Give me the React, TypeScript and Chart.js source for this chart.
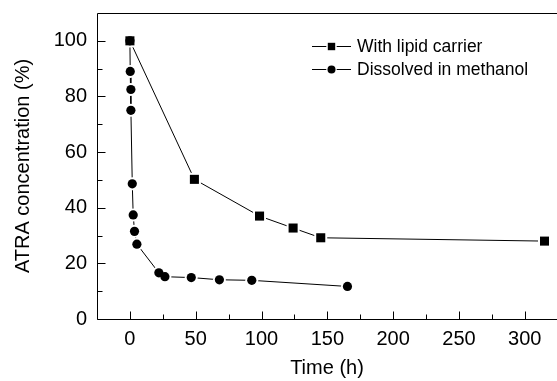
import { useEffect, useRef } from 'react';
import { Chart, registerables } from 'chart.js';

Chart.register(...registerables);

// ---- data ----
const seriesLabels = ['With lipid carrier', 'Dissolved in methanol'];

const lipidTime = [0, 49, 98.5, 124, 145, 315];
const lipidConc = [100, 50.2, 37.0, 32.7, 29.2, 28.0];

const methanolTime = [0, 0.25, 0.75, 0.75, 1.8, 2.5, 3.5, 5.3, 22, 26.6, 46.6, 68, 92.6, 165.3];
const methanolConc = [100, 89.0, 82.5, 75.0, 48.6, 37.4, 31.5, 26.9, 16.6, 15.2, 14.9, 14.1, 13.9, 11.7];

const xTickValues = [0, 50, 100, 150, 200, 250, 300];
const xMinorValues = [25, 75, 125, 175, 225, 275];
const yTickValues = [0, 20, 40, 60, 80, 100];
const yMinorValues = [10, 30, 50, 70, 90];

const xTitle = 'Time (h)';
const yTitle = 'ATRA concentration (%)';

const FONT = "'Liberation Sans', Arial, Helvetica, sans-serif";

function haloShape(ctx: CanvasRenderingContext2D, style: string, x: number, y: number, half: number) {
  ctx.beginPath();
  if (style === 'rect') {
    ctx.rect(x - half, y - half, half * 2, half * 2);
  } else {
    ctx.arc(x, y, half, 0, Math.PI * 2);
  }
  ctx.fill();
}

// white gaps around the markers, then the markers themselves on top
const markerPlugin = {
  id: 'markerHalo',
  afterDatasetsDraw(chart: any) {
    const { ctx } = chart;
    ctx.save();
    ctx.fillStyle = '#fff';
    const metas = chart.getSortedVisibleDatasetMetas();
    metas.forEach((meta: any) => {
      const ds = chart.data.datasets[meta.index];
      meta.data.forEach((el: any) => {
        haloShape(ctx, ds.pointStyle, el.x, el.y, 6.5);
      });
    });
    ctx.restore();
    metas.forEach((meta: any) => {
      meta.data.forEach((el: any) => el.draw(ctx, chart.chartArea));
    });
  },
};

const framePlugin = {
  id: 'frameAxes',
  afterDraw(chart: any) {
    const { ctx, chartArea: a, scales } = chart;
    const xs = scales.x;
    const ys = scales.y;
    const L = Math.round(a.left) + 0.5;
    const B = Math.round(a.bottom) + 0.5;
    const T = Math.round(a.top) + 0.5;
    const R = a.right;
    ctx.save();
    ctx.strokeStyle = '#000';
    ctx.lineWidth = 1;
    ctx.beginPath();
    ctx.moveTo(R, T);
    ctx.lineTo(L, T);
    ctx.lineTo(L, B);
    ctx.lineTo(R, B);
    xTickValues.forEach((v) => {
      const px = Math.round(xs.getPixelForValue(v)) + 0.5;
      ctx.moveTo(px, B);
      ctx.lineTo(px, B - 8);
    });
    xMinorValues.forEach((v) => {
      const px = Math.round(xs.getPixelForValue(v)) + 0.5;
      ctx.moveTo(px, B);
      ctx.lineTo(px, B - 5);
    });
    yTickValues.forEach((v) => {
      const py = Math.round(ys.getPixelForValue(v)) + 0.5;
      ctx.moveTo(L, py);
      ctx.lineTo(L + 8, py);
    });
    yMinorValues.forEach((v) => {
      const py = Math.round(ys.getPixelForValue(v)) + 0.5;
      ctx.moveTo(L, py);
      ctx.lineTo(L + 5, py);
    });
    ctx.stroke();

    // legend
    const rowY = [46.5, 69.5];
    chart.data.datasets.forEach((ds: any, i: number) => {
      const y = rowY[i];
      ctx.beginPath();
      ctx.moveTo(312, y);
      ctx.lineTo(351, y);
      ctx.stroke();
      ctx.fillStyle = '#fff';
      haloShape(ctx, ds.pointStyle, 331.5, y, 5.2);
      ctx.fillStyle = '#000';
      haloShape(ctx, ds.pointStyle, 331.5, y, ds.pointStyle === 'rect' ? 3.7 : 4);
      ctx.font = `17.5px ${FONT}`;
      ctx.textBaseline = 'middle';
      ctx.textAlign = 'left';
      ctx.fillText(ds.label, 357, y + 0.5);
    });
    ctx.restore();
  },
};

export default function App() {
  const ref = useRef<HTMLCanvasElement>(null);

  useEffect(() => {
    const canvas = ref.current!;
    const chart = new Chart(canvas, {
      type: 'scatter',
      data: {
        datasets: [
          {
            label: seriesLabels[0],
            data: lipidTime.map((t, i) => ({ x: t, y: lipidConc[i] })),
            showLine: true,
            borderColor: '#000',
            borderWidth: 1,
            backgroundColor: '#000',
            pointStyle: 'rect',
            pointRadius: 6.4,
            pointBorderWidth: 0,
            pointBackgroundColor: '#000',
            tension: 0,
          },
          {
            label: seriesLabels[1],
            data: methanolTime.map((t, i) => ({ x: t, y: methanolConc[i] })),
            showLine: true,
            borderColor: '#000',
            borderWidth: 1,
            backgroundColor: '#000',
            pointStyle: 'circle',
            pointRadius: 4.6,
            pointBorderWidth: 0,
            pointBackgroundColor: '#000',
            tension: 0,
          },
        ],
      } as any,
      options: {
        responsive: false,
        animation: false,
        devicePixelRatio: 1,
        layout: { autoPadding: false, padding: { top: 13, left: 0, right: 0, bottom: 0 } },
        plugins: { legend: { display: false }, tooltip: { enabled: false } },
        scales: {
          x: {
            type: 'linear',
            min: -25,
            max: 324.5,
            afterBuildTicks: (s: any) => {
              s.ticks = xTickValues.map((v) => ({ value: v }));
            },
            afterFit: (s: any) => {
              s.height = 62;
              s.paddingLeft = 0;
              s.paddingRight = 0;
            },
            grid: { display: false, drawTicks: false },
            border: { display: false },
            ticks: {
              padding: 8,
              color: '#000',
              autoSkip: false,
              maxRotation: 0,
              font: { family: FONT, size: 20 },
            },
            title: {
              display: true,
              text: xTitle,
              color: '#000',
              font: { family: FONT, size: 20 },
              padding: { top: 0, bottom: 1 },
            },
          },
          y: {
            type: 'linear',
            min: 0,
            max: 110,
            afterBuildTicks: (s: any) => {
              s.ticks = yTickValues.map((v) => ({ value: v }));
            },
            afterFit: (s: any) => {
              s.width = 97;
              s.paddingTop = 0;
              s.paddingBottom = 0;
            },
            grid: { display: false, drawTicks: false },
            border: { display: false },
            ticks: {
              padding: 10,
              color: '#000',
              autoSkip: false,
              font: { family: FONT, size: 20 },
            },
            title: {
              display: true,
              text: yTitle,
              color: '#000',
              font: { family: FONT, size: 20 },
              padding: { top: 11, bottom: 0 },
            },
          },
        },
      } as any,
      plugins: [markerPlugin, framePlugin],
    });
    return () => chart.destroy();
  }, []);

  return (
    <canvas
      ref={ref}
      width={557}
      height={381}
      style={{ position: 'absolute', left: 0, top: 0, width: 557, height: 381, display: 'block' }}
    />
  );
}
